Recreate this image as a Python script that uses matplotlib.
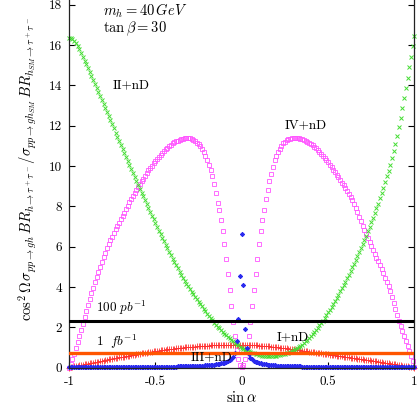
"""Ratio of h -> tau tau rates vs sin(alpha), m_h = 40 GeV, tan(beta) = 30."""

import numpy as np
import matplotlib.pyplot as plt

plt.rcParams['mathtext.fontset'] = 'cm'
plt.rcParams['font.family'] = 'cmr10'
plt.rcParams['axes.formatter.use_mathtext'] = False

sin_alpha = np.linspace(-1, 1, 201)

# type II + nD (green crosses)
ratio_II = [
    16.35, 16.34, 16.31, 16.22, 16.10, 15.95, 15.78, 15.60, 15.42, 15.23,
    15.04, 14.85, 14.66, 14.46, 14.26, 14.06, 13.86, 13.66, 13.46, 13.26,
    13.06, 12.86, 12.66, 12.46, 12.26, 12.06, 11.86, 11.66, 11.46, 11.26,
    11.06, 10.86, 10.66, 10.46, 10.26, 10.06, 9.86, 9.66, 9.46, 9.26,
    9.06, 8.87, 8.68, 8.49, 8.30, 8.11, 7.92, 7.73, 7.54, 7.35,
    7.16, 6.98, 6.80, 6.62, 6.44, 6.26, 6.08, 5.91, 5.74, 5.57,
    5.40, 5.24, 5.08, 4.92, 4.76, 4.61, 4.46, 4.31, 4.17, 4.03,
    3.90, 3.77, 3.64, 3.52, 3.40, 3.28, 3.16, 3.04, 2.92, 2.80,
    2.68, 2.57, 2.46, 2.35, 2.24, 2.14, 2.04, 1.95, 1.86, 1.77,
    1.69, 1.61, 1.53, 1.45, 1.38, 1.31, 1.24, 1.17, 1.11, 1.05,
    0.99, 0.94, 0.89, 0.85, 0.81, 0.77, 0.74, 0.71, 0.68, 0.66,
    0.64, 0.62, 0.60, 0.59, 0.58, 0.57, 0.57, 0.57, 0.58, 0.59,
    0.60, 0.62, 0.64, 0.66, 0.68, 0.70, 0.72, 0.75, 0.78, 0.82,
    0.87, 0.92, 0.97, 1.02, 1.08, 1.15, 1.22, 1.30, 1.38, 1.46,
    1.55, 1.65, 1.76, 1.87, 1.98, 2.10, 2.22, 2.34, 2.47, 2.60,
    2.74, 2.88, 3.02, 3.17, 3.32, 3.47, 3.62, 3.78, 3.94, 4.10,
    4.27, 4.44, 4.61, 4.79, 4.97, 5.15, 5.34, 5.53, 5.72, 5.92,
    6.12, 6.33, 6.54, 6.76, 6.98, 7.20, 7.43, 7.66, 7.90, 8.14,
    8.39, 8.65, 8.92, 9.20, 9.48, 9.77, 10.07, 10.38, 10.72, 11.10,
    11.50, 11.93, 12.40, 12.88, 13.38, 13.88, 14.38, 14.90, 15.42, 15.95, 16.45,
]

# type I + nD (red plus)
ratio_I = [
    0.00, 0.02, 0.04, 0.06, 0.07, 0.09, 0.11, 0.13, 0.14, 0.16,
    0.18, 0.20, 0.21, 0.23, 0.25, 0.27, 0.28, 0.30, 0.32, 0.34,
    0.35, 0.37, 0.39, 0.41, 0.42, 0.44, 0.46, 0.47, 0.49, 0.51,
    0.52, 0.54, 0.55, 0.57, 0.59, 0.60, 0.62, 0.63, 0.65, 0.66,
    0.68, 0.69, 0.71, 0.72, 0.74, 0.75, 0.77, 0.78, 0.79, 0.81,
    0.82, 0.83, 0.85, 0.86, 0.87, 0.88, 0.89, 0.91, 0.92, 0.93,
    0.94, 0.95, 0.96, 0.97, 0.98, 0.99, 1.00, 1.01, 1.01, 1.02,
    1.03, 1.04, 1.05, 1.05, 1.06, 1.07, 1.07, 1.08, 1.09, 1.09,
    1.10, 1.10, 1.11, 1.11, 1.12, 1.12, 1.12, 1.13, 1.13, 1.13,
    1.14, 1.14, 1.14, 1.14, 1.14, 1.14, 1.14, 1.14, 1.14, 1.14,
    1.14, 1.14, 1.14, 1.13, 1.13, 1.13, 1.12, 1.12, 1.11, 1.11,
    1.10, 1.10, 1.09, 1.08, 1.08, 1.07, 1.06, 1.05, 1.04, 1.03,
    1.02, 1.01, 1.00, 0.99, 0.98, 0.97, 0.96, 0.95, 0.94, 0.92,
    0.91, 0.90, 0.89, 0.87, 0.86, 0.85, 0.84, 0.83, 0.81, 0.80,
    0.79, 0.78, 0.76, 0.75, 0.74, 0.72, 0.71, 0.70, 0.68, 0.67,
    0.66, 0.65, 0.63, 0.62, 0.61, 0.60, 0.58, 0.57, 0.56, 0.55,
    0.53, 0.52, 0.51, 0.50, 0.48, 0.47, 0.46, 0.45, 0.43, 0.42,
    0.41, 0.40, 0.38, 0.37, 0.36, 0.34, 0.33, 0.32, 0.31, 0.29,
    0.28, 0.27, 0.25, 0.24, 0.23, 0.21, 0.20, 0.19, 0.17, 0.16,
    0.15, 0.13, 0.12, 0.10, 0.09, 0.08, 0.06, 0.05, 0.03, 0.02, 0.00,
]

# type III + nD (blue stars)
ratio_III = [
    0.02, 0.02, 0.02, 0.02, 0.02, 0.02, 0.02, 0.02, 0.02, 0.02,
    0.02, 0.02, 0.02, 0.02, 0.02, 0.02, 0.02, 0.02, 0.02, 0.02,
    0.02, 0.02, 0.02, 0.02, 0.02, 0.03, 0.03, 0.03, 0.03, 0.03,
    0.03, 0.03, 0.03, 0.03, 0.03, 0.03, 0.03, 0.03, 0.03, 0.03,
    0.03, 0.03, 0.04, 0.04, 0.04, 0.04, 0.04, 0.04, 0.04, 0.04,
    0.04, 0.04, 0.04, 0.04, 0.05, 0.05, 0.05, 0.05, 0.05, 0.05,
    0.05, 0.05, 0.05, 0.06, 0.06, 0.06, 0.06, 0.06, 0.06, 0.07,
    0.07, 0.07, 0.08, 0.08, 0.08, 0.09, 0.09, 0.10, 0.10, 0.11,
    0.11, 0.12, 0.13, 0.14, 0.15, 0.16, 0.17, 0.19, 0.21, 0.23,
    0.25, 0.28, 0.31, 0.36, 0.42, 0.55, 0.75, 1.30, 2.40, 4.53,
    6.64, 4.08, 1.92, 0.98, 0.66, 0.50, 0.41, 0.35, 0.30, 0.27,
    0.24, 0.22, 0.20, 0.18, 0.16, 0.15, 0.14, 0.13, 0.12, 0.11,
    0.10, 0.10, 0.09, 0.09, 0.08, 0.08, 0.08, 0.07, 0.07, 0.07,
    0.06, 0.06, 0.06, 0.06, 0.06, 0.05, 0.05, 0.05, 0.05, 0.05,
    0.05, 0.05, 0.05, 0.04, 0.04, 0.04, 0.04, 0.04, 0.04, 0.04,
    0.04, 0.04, 0.04, 0.04, 0.04, 0.04, 0.04, 0.03, 0.03, 0.03,
    0.03, 0.03, 0.03, 0.03, 0.03, 0.03, 0.03, 0.03, 0.03, 0.03,
    0.03, 0.03, 0.03, 0.03, 0.03, 0.02, 0.02, 0.02, 0.02, 0.02,
    0.02, 0.02, 0.02, 0.02, 0.02, 0.02, 0.02, 0.02, 0.02, 0.02,
    0.02, 0.02, 0.02, 0.02, 0.02, 0.02, 0.02, 0.02, 0.02, 0.02, 0.02,
]

# type IV + nD (magenta open squares)
ratio_IV = [
    0.00, 0.20, 0.45, 0.70, 0.98, 1.25, 1.55, 1.86, 2.17, 2.49,
    2.80, 3.10, 3.39, 3.68, 3.97, 4.25, 4.51, 4.76, 5.01, 5.26,
    5.50, 5.71, 5.92, 6.12, 6.31, 6.50, 6.68, 6.86, 7.03, 7.19,
    7.35, 7.52, 7.69, 7.86, 8.03, 8.20, 8.35, 8.50, 8.65, 8.80,
    8.95, 9.10, 9.24, 9.38, 9.52, 9.65, 9.78, 9.90, 10.02, 10.14,
    10.25, 10.35, 10.45, 10.55, 10.65, 10.75, 10.83, 10.91, 10.98, 11.05,
    11.12, 11.17, 11.22, 11.26, 11.30, 11.33, 11.35, 11.37, 11.38, 11.38,
    11.37, 11.34, 11.30, 11.24, 11.16, 11.08, 10.97, 10.84, 10.68, 10.50,
    10.28, 10.05, 9.82, 9.52, 9.13, 8.65, 8.15, 7.80, 7.32, 6.76,
    6.12, 5.40, 4.65, 3.86, 3.05, 2.27, 1.58, 0.90, 0.45, 0.15,
    0.02, 0.15, 0.45, 0.89, 1.56, 2.25, 3.04, 3.87, 4.66, 5.39,
    6.13, 6.76, 7.34, 7.83, 8.35, 8.83, 9.24, 9.62, 9.97, 10.28,
    10.52, 10.70, 10.86, 11.00, 11.12, 11.21, 11.28, 11.33, 11.36, 11.38,
    11.39, 11.39, 11.39, 11.38, 11.36, 11.33, 11.29, 11.25, 11.20, 11.15,
    11.10, 11.03, 10.96, 10.88, 10.80, 10.71, 10.61, 10.51, 10.41, 10.30,
    10.18, 10.06, 9.94, 9.82, 9.70, 9.57, 9.44, 9.30, 9.17, 9.05,
    8.92, 8.78, 8.63, 8.47, 8.30, 8.12, 7.93, 7.70, 7.48, 7.26,
    7.05, 6.85, 6.65, 6.44, 6.24, 6.04, 5.84, 5.65, 5.46, 5.27,
    5.08, 4.88, 4.68, 4.47, 4.26, 4.04, 3.80, 3.52, 3.22, 2.92,
    2.62, 2.34, 2.06, 1.80, 1.56, 1.32, 1.06, 0.82, 0.58, 0.32, 0.05,
]

# luminosity reach lines
reach_100pb = 2.3
reach_1fb = 0.75

fig = plt.figure(figsize=(4.2, 4.05), dpi=100)
ax = fig.add_axes([0.1643, 0.0921, 0.8224, 0.9079])

ax.plot(sin_alpha, ratio_IV, 's', mfc='none', mec='#ff55ff', ms=3.3, mew=0.6, clip_on=False)
ax.plot(sin_alpha, ratio_I, '+', color='#ff3030', ms=3.8, mew=0.6, clip_on=False)
ax.plot(sin_alpha, ratio_II, 'x', color='#44dd33', ms=3.0, mew=0.7, clip_on=False)
ax.plot(sin_alpha, ratio_III, marker=(8, 2, 0), ls='none', color='#2a2aee', ms=3.2, mew=0.7, clip_on=False)

ax.axhline(reach_100pb, color='black', lw=2.2, zorder=5)
ax.axhline(reach_1fb, color='#ff5500', lw=2.4, zorder=5)

ax.text(-0.804, 17.25, r'$m_h = 40\,GeV$' + '\n' + r'$\tan\beta = 30$',
        fontsize=10.5, va='center', linespacing=0.95)
ax.text(-0.746, 14.02, 'II+nD', fontsize=9.5, va='center')
ax.text(0.251, 12.03, 'IV+nD', fontsize=9.5, va='center')
ax.text(-0.841, 2.96, r'$100\ pb^{-1}$', fontsize=9.5, va='center')
ax.text(-0.841, 1.27, r'$1\ \ fb^{-1}$', fontsize=9.5, va='center')
ax.text(-0.294, 0.53, 'III+nD', fontsize=9.5, va='center', zorder=6)
ax.text(0.203, 1.52, 'I+nD', fontsize=9.5, va='center', zorder=6)

ax.set_xlim(-1, 1)
ax.set_ylim(0, 18.23)
ax.set_xticks([-1, -0.5, 0, 0.5, 1])
ax.set_xticklabels(['-1', '-0.5', '0', '0.5', '1'])
ax.set_yticks(range(0, 19, 2))
ax.set_yticklabels([str(v) for v in range(0, 19, 2)])
ax.tick_params(direction='in', length=4, width=0.8, labelsize=9.5, right=True, top=False)
ax.tick_params(axis='x', pad=6)
ax.tick_params(axis='y', pad=5)
ax.spines['top'].set_visible(False)
for s in ['left', 'right', 'bottom']:
    ax.spines[s].set_linewidth(0.9)
    ax.spines[s].set_color('#222222')

fig.text(241.7 / 420, 8 / 405, r'$\sin\alpha$', fontsize=10.5, ha='center', va='center')
fig.text(28 / 420, 0.583,
         r'$\cos^2\Omega\,\sigma_{pp\to gh}\,BR_{h\to\tau^+\tau^-}/\sigma_{pp\to gh_{SM}}\,BR_{h_{SM}\to\tau^+\tau^-}$',
         rotation=90, fontsize=10.5, ha='center', va='center')

fig.savefig('out.png', dpi=100)
